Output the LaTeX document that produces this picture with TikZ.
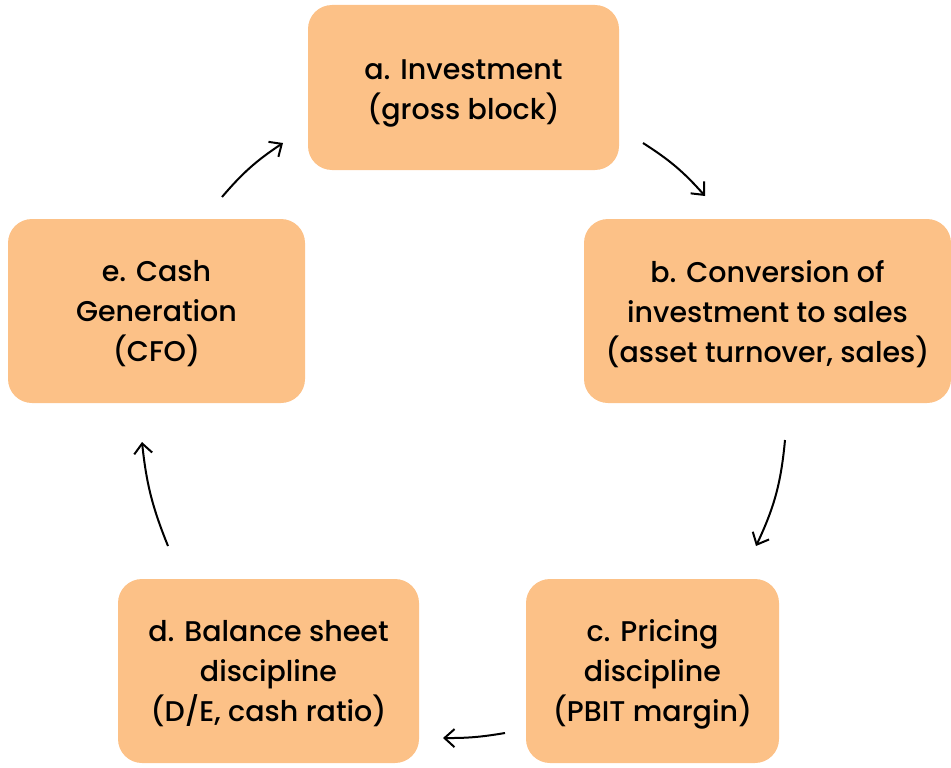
\documentclass[tikz,border=0pt]{standalone}
\usepackage{fontspec}
\setmainfont{Poppins}[UprightFont=* Medium]
\usetikzlibrary{arrows.meta}
\definecolor{boxfill}{HTML}{FCC187}
\begin{document}
\begin{tikzpicture}[x=1pt,y=-1pt,
  box/.style={fill=boxfill,rounded corners=24pt,inner sep=0pt},
  lbl/.style={align=center,inner sep=0pt,font=\fontsize{28.5}{40}\selectfont},
  cyc/.style={-{Straight Barb[length=10pt,width=18pt]},line width=2pt,black}]
\useasboundingbox (0,0) rectangle (951,768);
\node[box,minimum width=311pt,minimum height=165pt] (a) at (463.5,87.5) {};
\node[box,minimum width=367pt,minimum height=184pt] (b) at (767.5,311) {};
\node[box,minimum width=253pt,minimum height=184pt] (c) at (652.5,671) {};
\node[box,minimum width=301pt,minimum height=184pt] (d) at (268.5,671) {};
\node[box,minimum width=297pt,minimum height=184pt] (e) at (156.5,311) {};
\node[lbl] (at) at ([yshift=-6pt]a.center) {a. Investment\\(gross block)};
\node[lbl] (bt) at ([yshift=-3pt]b.center) {b. Conversion of\\investment to sales\\(asset turnover, sales)};
\node[lbl] (ct) at ([yshift=-3pt]c.center) {c. Pricing\\discipline\\(PBIT margin)};
\node[lbl] (dt) at ([yshift=-3pt]d.center) {d. Balance sheet\\discipline\\(D/E, cash ratio)};
\node[lbl] (et) at ([yshift=-3pt]e.center) {e. Cash\\Generation\\(CFO)};
\coordinate (ea) at (222,197); \coordinate (ae) at (283,143);
\coordinate (ab) at (643,143); \coordinate (ba) at (705,196);
\coordinate (bc) at (785,440); \coordinate (cb) at (756,546);
\coordinate (cd) at (505,733); \coordinate (dc) at (443,738);
\coordinate (de) at (168,546); \coordinate (ed) at (142,442);
\draw[cyc] (ea) to[bend left=8] (ae);
\draw[cyc] (ab) to[bend left=8] (ba);
\draw[cyc] (bc) to[bend left=10] (cb);
\draw[cyc] (cd) to[bend left=5] (dc);
\draw[cyc] (de) to[bend left=8] (ed);
\end{tikzpicture}
\end{document}
